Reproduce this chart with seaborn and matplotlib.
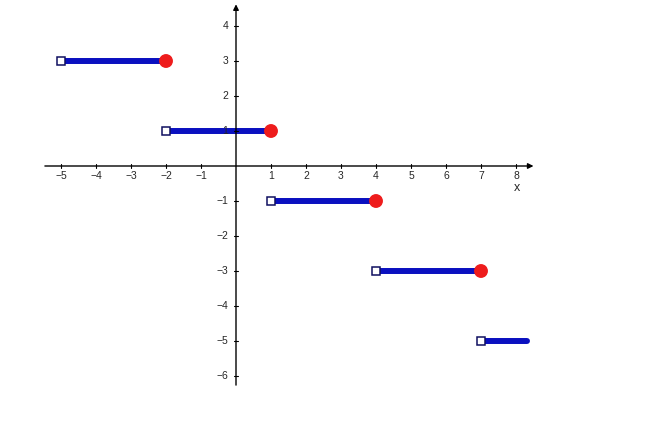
import pandas as pd
import seaborn as sns
import matplotlib.pyplot as plt

# step segments: [start, end) at each level
starts = [-5, -2, 1, 4, 7]
ends = [-2, 1, 4, 7, 8.3]
levels = [3, 1, -1, -3, -5]
closed_ends = [-2, 1, 4, 7]          # filled dots at right ends
closed_levels = [3, 1, -1, -3]

x_ticks = [-5, -4, -3, -2, -1, 1, 2, 3, 4, 5, 6, 7, 8]
y_ticks = [-6, -5, -4, -3, -2, -1, 1, 2, 3, 4]

seg = pd.DataFrame({
    'x': starts + ends,
    'y': levels + levels,
    'seg': list(range(5)) + list(range(5)),
})

sns.set_style('white')
plt.rcParams['font.family'] = ['Liberation Sans', 'DejaVu Sans']

fig = plt.figure(figsize=(6.53, 4.36), dpi=100, facecolor='white')
ax = fig.add_axes([0, 0, 1, 1])

# pixel mapping: origin at (236,166), 35 px per unit
ax.set_xlim(-236 / 35, (653 - 236) / 35)
ax.set_ylim((166 - 436) / 35, 166 / 35)

sns.lineplot(data=seg, x='x', y='y', units='seg', estimator=None,
             color='#0a10c0', linewidth=4.3, solid_capstyle='round',
             ax=ax, legend=False)
ax.plot(starts, levels, 's', ms=5.8, mfc='white', mec='#101060', mew=1.1,
        zorder=4)
sns.scatterplot(x=closed_ends, y=closed_levels, color='#ee1c1c', s=100,
                edgecolor='none', zorder=5, ax=ax)

# axes through origin
for s in ax.spines.values():
    s.set_visible(False)
ax.set_xticks([])
ax.set_yticks([])
ax.set_xlabel('')
ax.set_ylabel('')

ax.annotate('', xy=(8.5, 0), xytext=(-5.46, 0),
            arrowprops=dict(arrowstyle='-|>', color='black', lw=1,
                            mutation_scale=8, shrinkA=0, shrinkB=0))
ax.annotate('', xy=(0, 4.62), xytext=(0, -6.26),
            arrowprops=dict(arrowstyle='-|>', color='black', lw=1,
                            mutation_scale=8, shrinkA=0, shrinkB=0))

for t in x_ticks:
    ax.plot([t, t], [-0.06, 0.06], color='black', lw=0.8)
    ax.text(t, -0.14, str(t).replace('-', '\u2212'), ha='center', va='top',
            fontsize=7.5)
for t in y_ticks:
    ax.plot([-0.06, 0.06], [t, t], color='black', lw=0.8)
    ax.text(-0.22, t, str(t).replace('-', '\u2212'), ha='right',
            va='center', fontsize=7.5)

ax.text(8.02, -0.64, 'x', ha='center', va='center', fontsize=9)

plt.savefig('out.png', dpi=100)
